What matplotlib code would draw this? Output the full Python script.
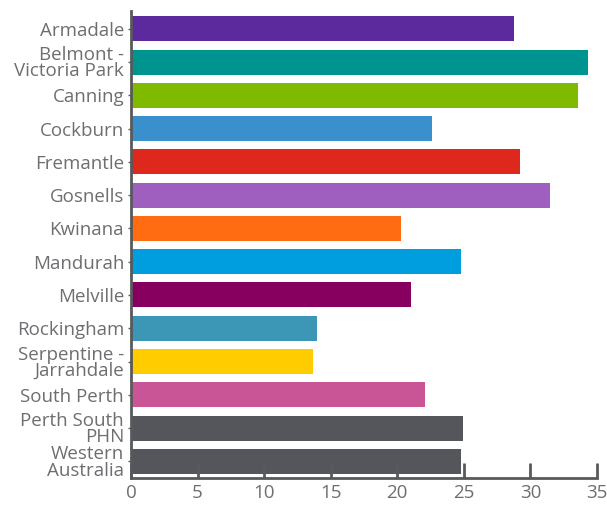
import matplotlib.pyplot as plt

regions = ["Armadale", "Belmont -\nVictoria Park", "Canning", "Cockburn", "Fremantle",
           "Gosnells", "Kwinana", "Mandurah", "Melville", "Rockingham",
           "Serpentine -\nJarrahdale", "South Perth", "Perth South\nPHN", "Western\nAustralia"]
values = [28.8, 34.3, 33.6, 22.6, 29.2, 31.5, 20.3, 24.8, 21.0, 14.0, 13.7, 22.1, 24.9, 24.8]
colors = ["#5C2A9D", "#009490", "#7FBA00", "#3A8FCD", "#DE281E", "#9E5FBF", "#FF6C11",
          "#009DDF", "#87005F", "#3B97B5", "#FFCC00", "#C95597", "#55565B", "#55565B"]
xticks = [0, 5, 10, 15, 20, 25, 30, 35]

plt.rcParams['font.family'] = ['Open Sans', 'DejaVu Sans']
text_color = "#6D6E71"
axis_color = "#58595B"

fig = plt.figure(figsize=(6.07, 5.05), dpi=100)
ax = fig.add_axes([0.2158, 0.0535, 0.7677, 0.9245])

ypos = list(range(len(regions)))
ax.barh(ypos, values, height=0.75, color=colors)

ax.set_xlim(0, 35)
ax.set_ylim(13.5, -0.53)
ax.set_xticks(xticks)
ax.set_yticks(ypos)
ax.set_yticklabels(regions, linespacing=0.88)

for side in ["top", "right"]:
    ax.spines[side].set_visible(False)
for side in ["left", "bottom"]:
    ax.spines[side].set_color(axis_color)
    ax.spines[side].set_linewidth(2)

ax.tick_params(axis="x", direction="in", length=11, width=2, color=axis_color,
               labelcolor=text_color, labelsize=13.5, pad=4)
ax.tick_params(axis="y", direction="out", length=2, width=1, color=axis_color,
               labelcolor=text_color, labelsize=13.5, pad=3)

fig.savefig("out.png", dpi=100)
